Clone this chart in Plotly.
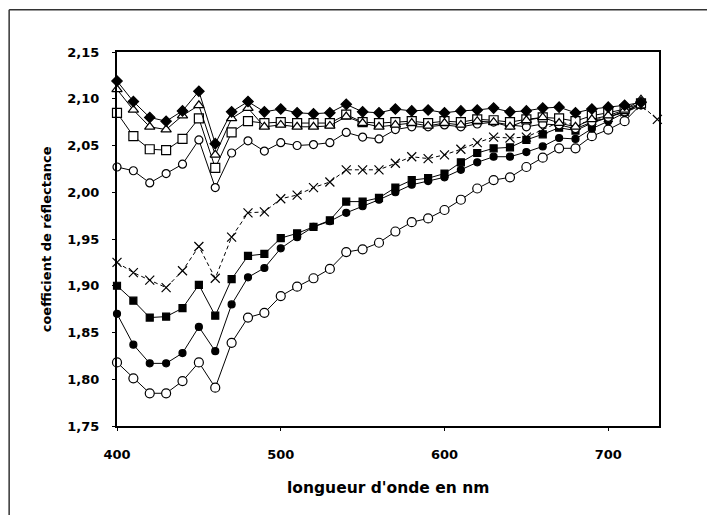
import plotly.graph_objects as go

# longueurs d'onde (nm)
wavelengths = list(range(400, 730, 10))
wavelengths_x = list(range(400, 740, 10))

diamond_filled = [2.119, 2.097, 2.080, 2.076, 2.087, 2.108, 2.052, 2.086, 2.097, 2.086, 2.089,
                  2.085, 2.084, 2.085, 2.094, 2.086, 2.085, 2.089, 2.087, 2.088, 2.085, 2.087,
                  2.088, 2.090, 2.086, 2.087, 2.090, 2.091, 2.085, 2.089, 2.091, 2.093, 2.096]
triangle_open = [2.110, 2.088, 2.070, 2.067, 2.082, 2.093, 2.040, 2.079, 2.090, 2.070, 2.072,
                 2.070, 2.070, 2.071, 2.081, 2.074, 2.070, 2.072, 2.074, 2.071, 2.074, 2.072,
                 2.076, 2.075, 2.070, 2.077, 2.080, 2.074, 2.070, 2.078, 2.082, 2.088, 2.099]
square_open = [2.085, 2.060, 2.046, 2.045, 2.057, 2.079, 2.026, 2.064, 2.076, 2.074, 2.075,
               2.074, 2.074, 2.074, 2.083, 2.075, 2.074, 2.075, 2.076, 2.074, 2.076, 2.075,
               2.078, 2.077, 2.075, 2.078, 2.080, 2.079, 2.076, 2.082, 2.085, 2.089, 2.095]
circle_open_high = [2.027, 2.023, 2.010, 2.020, 2.030, 2.056, 2.005, 2.042, 2.055, 2.044, 2.053,
                    2.050, 2.051, 2.053, 2.064, 2.059, 2.057, 2.067, 2.070, 2.070, 2.072, 2.070,
                    2.073, 2.075, 2.072, 2.070, 2.073, 2.072, 2.068, 2.075, 2.080, 2.086, 2.095]
cross = [1.925, 1.914, 1.906, 1.898, 1.916, 1.942, 1.908, 1.952, 1.978, 1.979, 1.993,
         1.997, 2.005, 2.011, 2.024, 2.024, 2.024, 2.031, 2.038, 2.036, 2.040, 2.046,
         2.053, 2.059, 2.058, 2.059, 2.067, 2.075, 2.072, 2.077, 2.080, 2.086, 2.093, 2.078]
square_filled = [1.900, 1.884, 1.866, 1.867, 1.876, 1.901, 1.868, 1.907, 1.932, 1.934, 1.951,
                 1.956, 1.963, 1.970, 1.990, 1.990, 1.994, 2.005, 2.013, 2.015, 2.020, 2.032,
                 2.042, 2.047, 2.048, 2.056, 2.062, 2.069, 2.066, 2.074, 2.080, 2.087, 2.094]
circle_filled = [1.870, 1.837, 1.817, 1.817, 1.828, 1.856, 1.830, 1.880, 1.909, 1.919, 1.940,
                 1.952, 1.963, 1.969, 1.978, 1.985, 1.992, 2.000, 2.008, 2.012, 2.016, 2.024,
                 2.032, 2.038, 2.038, 2.043, 2.049, 2.058, 2.057, 2.068, 2.076, 2.085, 2.093]
circle_open_low = [1.818, 1.801, 1.785, 1.785, 1.798, 1.818, 1.791, 1.839, 1.866, 1.871, 1.889,
                   1.899, 1.908, 1.918, 1.936, 1.939, 1.946, 1.958, 1.968, 1.972, 1.981, 1.992,
                   2.004, 2.013, 2.016, 2.027, 2.037, 2.047, 2.047, 2.060, 2.067, 2.076, 2.094]

y_ticks = [1.75, 1.80, 1.85, 1.90, 1.95, 2.00, 2.05, 2.10, 2.15]
x_ticks = [400, 500, 600, 700]

FONT = "DejaVu Sans"

fig = go.Figure()

series = [
    (wavelengths, circle_open_low, "circle", "white", 9, "solid"),
    (wavelengths, circle_filled, "circle", "black", 7, "solid"),
    (wavelengths, square_filled, "square", "black", 7, "solid"),
    (wavelengths_x, cross, "x-thin", "black", 9, "dash"),
    (wavelengths, circle_open_high, "circle", "white", 8, "solid"),
    (wavelengths, square_open, "square", "white", 9, "solid"),
    (wavelengths, triangle_open, "triangle-up", "white", 9, "solid"),
    (wavelengths, diamond_filled, "diamond", "black", 8, "solid"),
]

for x, y, sym, fill, size, dash in series:
    fig.add_trace(go.Scatter(
        x=x, y=y, mode="lines+markers",
        line=dict(color="black", width=1, dash="4px,3px" if dash == "dash" else "solid"),
        marker=dict(symbol=sym, size=size, color=fill,
                    line=dict(color="black", width=1.2)),
        showlegend=False, cliponaxis=False,
    ))

fig.update_xaxes(
    range=[400, 731], tickvals=x_ticks, ticks="outside", ticklen=3, tickcolor="black",
    showline=True, linecolor="black", linewidth=2, mirror=True, showgrid=False, zeroline=False,
    tickfont=dict(family=FONT, size=13, color="black", weight="bold"), ticklabelstandoff=12,
)
fig.update_yaxes(
    range=[1.75, 2.15], tickvals=y_ticks, tickformat=".2f", ticks="outside", ticklen=3,
    tickcolor="black", showline=True, linecolor="black", linewidth=2, mirror=True,
    showgrid=False, zeroline=False,
    tickfont=dict(family=FONT, size=13, color="black", weight="bold"), ticklabelstandoff=10,
)

fig.add_annotation(text="longueur d'onde en nm", xref="paper", yref="paper", x=0.5, y=-0.195,
                   showarrow=False, font=dict(family=FONT, size=15.5, color="black", weight="bold"))
fig.add_annotation(text="coefficient de réflectance", xref="paper", yref="paper", x=-0.148, y=0.5,
                   textangle=-90, showarrow=False,
                   font=dict(family=FONT, size=13, color="black", weight="bold"))

# cadre extérieur
for x0, y0, x1, y1 in [(-0.199, 1.113, -0.199, -0.3), (-0.199, 1.113, 1.09, 1.113),
                       (1.09, 1.113, 1.09, -0.3)]:
    fig.add_shape(type="line", xref="paper", yref="paper", x0=x0, y0=y0, x1=x1, y1=y1,
                  line=dict(color="#333", width=1.5))

fig.update_layout(
    width=715, height=515, margin=dict(l=109, r=64, t=44, b=97),
    paper_bgcolor="white", plot_bgcolor="white", separators=", ",
)

fig.write_html("out.html")
